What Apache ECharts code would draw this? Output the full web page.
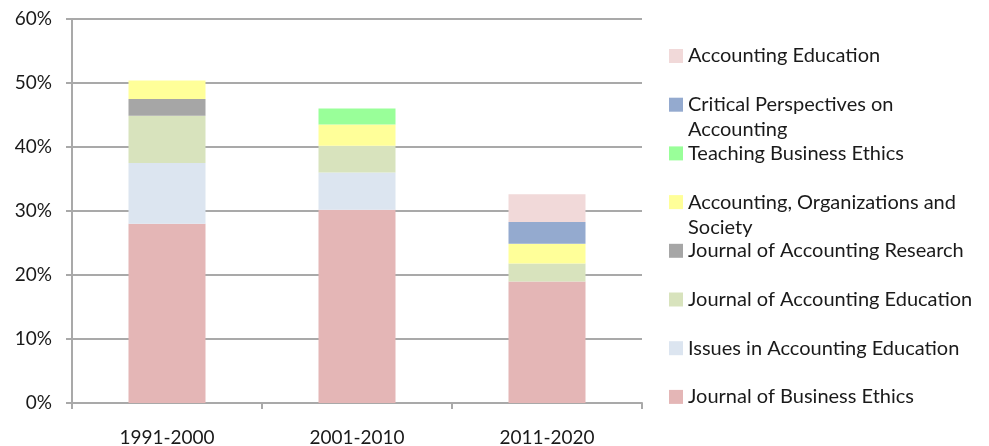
<!DOCTYPE html>
<html>
<head>
<meta charset="utf-8">
<script src="https://cdn.jsdelivr.net/npm/echarts@6/dist/echarts.min.js"></script>
<style>
  html, body { margin: 0; padding: 0; background: #fff; }
  #chart { width: 989px; height: 446px; }
</style>
</head>
<body>
<div id="chart"></div>
<script>
// Chart data (percent of articles per decade)
const periods = ['1991-2000', '2001-2010', '2011-2020'];
const yTicks = [0, 10, 20, 30, 40, 50, 60];

// stacked bottom -> top
const journals = [
    'Journal of Business Ethics',
    'Issues in Accounting Education',
    'Journal of Accounting Education',
    'Journal of Accounting Research',
    'Accounting, Organizations and Society',
    'Teaching Business Ethics',
    'Critical Perspectives on Accounting',
    'Accounting Education'
];
const jbe   = [28.0, 30.2, 19.0];
const iae   = [9.5, 5.8, 0];
const jae   = [7.4, 4.2, 2.8];
const jar   = [2.6, 0, 0];
const aos   = [2.9, 3.3, 3.1];
const tbe   = [0, 2.5, 0];
const cpa   = [0, 0, 3.4];
const accEd = [0, 0, 4.3];

const seriesValues = [jbe, iae, jae, jar, aos, tbe, cpa, accEd];
const colors = ['#e4b6b6', '#dce5f0', '#d8e3bd', '#a6a6a6', '#ffff99', '#99ff99', '#94aacf', '#f1d9d9'];

// legend labels wrapped like the original; the leading empty line keeps
// the first line level with the colour box
const legendLabels = {
    'Critical Perspectives on Accounting': '\nCritical Perspectives on\nAccounting',
    'Accounting, Organizations and Society': '\nAccounting, Organizations and\nSociety'
};

const FONT = 'Lato';
const TEXT = '#1a1a1a';
const GRID = '#a9a9a9';
const LINE_H = 25;

const chart = echarts.init(document.getElementById('chart'), null, { renderer: 'canvas' });

// one legend block per journal, top entry = last stacked series
const legends = [];
const legendOrder = journals.slice().reverse();
legendOrder.forEach((name, i) => {
    const wrapped = !!legendLabels[name];
    const center = 56 + i * 48.7;
    legends.push({
        data: [name],
        left: 669,
        top: wrapped ? center - LINE_H * 1.5 : center - LINE_H / 2,
        padding: 0,
        itemWidth: 14,
        itemHeight: 14,
        itemGap: 0,
        selectedMode: false,
        icon: 'rect',
        formatter: (n) => legendLabels[n] || n,
        textStyle: {
            fontFamily: FONT,
            fontSize: 20,
            color: TEXT,
            lineHeight: LINE_H
        }
    });
});

const option = {
    backgroundColor: '#fff',
    animation: false,
    grid: { left: 72, right: 347, top: 19, height: 384, outerBoundsMode: 'none' },
    legend: legends,
    xAxis: {
        type: 'category',
        data: periods,
        axisLine: { lineStyle: { color: GRID, width: 2 } },
        axisTick: { show: true, length: 6, lineStyle: { color: GRID, width: 2 } },
        axisLabel: { fontFamily: FONT, fontSize: 19, color: TEXT, margin: 25 }
    },
    yAxis: {
        type: 'value',
        min: yTicks[0],
        max: yTicks[yTicks.length - 1],
        interval: 10,
        axisLine: { show: true, lineStyle: { color: GRID, width: 2 } },
        axisTick: { show: true, length: 6, lineStyle: { color: GRID, width: 2 } },
        splitLine: { lineStyle: { color: GRID, width: 2 } },
        axisLabel: {
            fontFamily: FONT, fontSize: 19, color: TEXT, margin: 20,
            formatter: (v) => v + '%'
        }
    },
    series: journals.map((name, i) => ({
        name: name,
        type: 'bar',
        stack: 'total',
        barWidth: 77,
        data: seriesValues[i],
        itemStyle: { color: colors[i] }
    }))
};

chart.setOption(option);
</script>
</body>
</html>
